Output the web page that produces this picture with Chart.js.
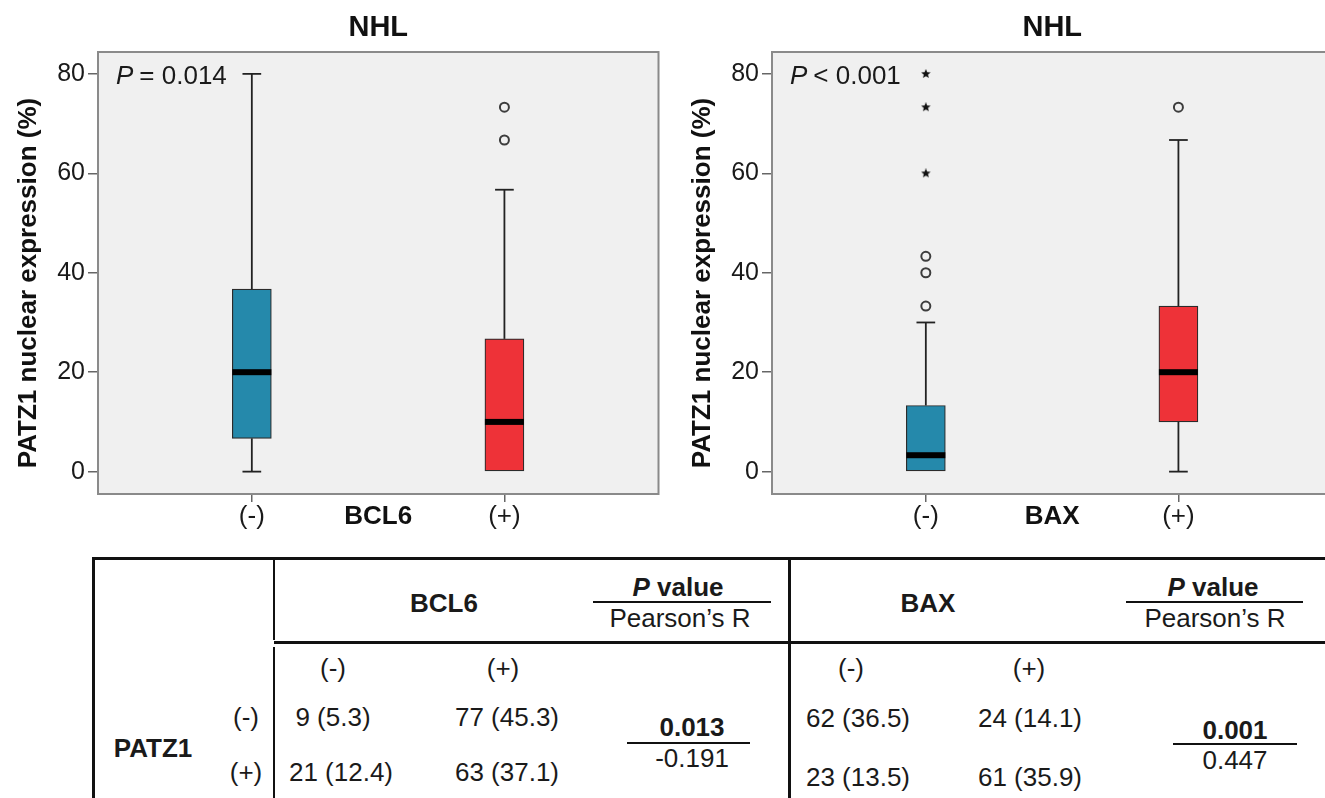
<!DOCTYPE html>
<html>
<head>
<meta charset="utf-8">
<script src="https://cdn.jsdelivr.net/npm/chart.js@4.4.1/dist/chart.umd.min.js"></script>
<style>
    html, body { margin: 0; padding: 0; background: #fff; }
    body { width: 1325px; height: 798px; overflow: hidden; position: relative;
           font-family: 'Liberation Sans', Arial, sans-serif; color: #1a1a1a; }
    .panel { position: absolute; top: 0; width: 665px; height: 545px; }
    .t { position: absolute; transform: translate(-50%, -50%); white-space: nowrap; font-size: 26px; line-height: 1; }
    .b { font-weight: bold; }
    .ln { position: absolute; background: #111; }
</style>
</head>
<body>
<div class="panel" style="left:0"><canvas id="chartBcl6"></canvas></div>
<div class="panel" style="left:674px"><canvas id="chartBax"></canvas></div>
<div id="table"></div>
<script>
// Groups on the x axis
const groups = ['(-)', '(+)'];
const yTicks = [0, 20, 40, 60, 80];
const boxColors = ['#2589ab', '#ee3238'];

// BCL6 panel (box stats per group)
const bcl6Min = [0, 0];
const bcl6Q1 = [6.7, 0];
const bcl6Median = [20, 10];
const bcl6Q3 = [36.7, 26.7];
const bcl6Max = [80, 56.7];
const bcl6Outliers = [[], [66.7, 73.3]];
const bcl6Extremes = [[], []];
const bcl6P = '= 0.014';

// BAX panel
const baxMin = [0, 0];
const baxQ1 = [0, 10];
const baxMedian = [3.3, 20];
const baxQ3 = [13.3, 33.3];
const baxMax = [30, 66.7];
const baxOutliers = [[33.3, 40, 43.3], [73.3]];
const baxExtremes = [[60, 73.3, 80], []];
const baxP = '< 0.001';

// Table values
const rowLabels = ['(-)', '(+)'];
const bcl6Counts = [[9, 77], [21, 63]];
const bcl6Pct = [[5.3, 45.3], [12.4, 37.1]];
const baxCounts = [[62, 24], [23, 61]];
const baxPct = [[36.5, 14.1], [13.5, 35.9]];
const pValues = ['0.013', '0.001'];
const pearsonR = ['-0.191', '0.447'];

const FONT = "'Liberation Sans', Arial, sans-serif";
const Y_TITLE = 'PATZ1 nuclear expression (%)';

// small filled star for extreme values
function makeStar(size) {
    const c = document.createElement('canvas');
    c.width = c.height = size;
    const g = c.getContext('2d');
    g.fillStyle = '#111';
    g.beginPath();
    for (let k = 0; k < 10; k++) {
        const r = k % 2 ? size * 0.22 : size * 0.5;
        const a = -Math.PI / 2 + k * Math.PI / 5;
        g.lineTo(size / 2 + r * Math.cos(a), size / 2 + r * Math.sin(a));
    }
    g.closePath();
    g.fill();
    return c;
}
const starImg = makeStar(10);

// whiskers, medians, frame, y title and P label
const boxPlotPlugin = {
    id: 'boxPlot',
    beforeDraw(chart) {
        const {ctx, chartArea: a} = chart;
        ctx.save();
        ctx.fillStyle = '#f0f0f0';
        ctx.fillRect(a.left, a.top, a.right - a.left, a.bottom - a.top);
        ctx.restore();
    },
    beforeDatasetsDraw(chart, args, opts) {
        const {ctx, scales: {x, y}} = chart;
        const s = opts.stats;
        const capHalf = 0.037;
        ctx.save();
        ctx.strokeStyle = '#222';
        ctx.lineWidth = 1.8;
        const seg = (x1, y1, x2, y2) => { ctx.beginPath(); ctx.moveTo(x1, y1); ctx.lineTo(x2, y2); ctx.stroke(); };
        s.q1.forEach((q1, i) => {
            const c = i + 1;
            const px = x.getPixelForValue(c);
            const cl = x.getPixelForValue(c - capHalf), cr = x.getPixelForValue(c + capHalf);
            if (s.max[i] > s.q3[i]) {
                seg(px, y.getPixelForValue(s.q3[i]), px, y.getPixelForValue(s.max[i]));
                seg(cl, y.getPixelForValue(s.max[i]), cr, y.getPixelForValue(s.max[i]));
            }
            if (s.min[i] < q1) {
                seg(px, y.getPixelForValue(q1), px, y.getPixelForValue(s.min[i]));
                seg(cl, y.getPixelForValue(s.min[i]), cr, y.getPixelForValue(s.min[i]));
            }
        });
        ctx.restore();
    },
    afterDatasetsDraw(chart, args, opts) {
        const {ctx, chartArea: a, scales: {y}} = chart;
        const s = opts.stats;
        const bars = chart.getDatasetMeta(0).data;
        ctx.save();
        ctx.fillStyle = '#000';
        s.median.forEach((m, i) => {
            const bar = bars[i];
            const py = y.getPixelForValue(m);
            ctx.fillRect(bar.x - bar.width / 2, py - 3, bar.width, 6);
        });
        // frame
        ctx.strokeStyle = '#8a8a8a';
        ctx.lineWidth = 2;
        ctx.strokeRect(a.left, a.top, a.right - a.left, a.bottom - a.top);
        // P annotation
        const ty = y.getPixelForValue(80) + 3;
        let tx = a.left + 18;
        ctx.fillStyle = '#1a1a1a';
        ctx.textBaseline = 'middle';
        ctx.font = 'italic 26px ' + FONT;
        ctx.fillText('P', tx, ty);
        tx += ctx.measureText('P').width + 6;
        ctx.font = '26px ' + FONT;
        ctx.fillText(opts.pText, tx, ty);
        // y axis title
        ctx.translate(29, (a.top + a.bottom) / 2 + 10);
        ctx.rotate(-Math.PI / 2);
        ctx.textAlign = 'center';
        ctx.fillStyle = '#111';
        ctx.font = 'bold 26px ' + FONT;
        ctx.fillText(Y_TITLE, 0, 0);
        ctx.restore();
    }
};

function makeBoxChart(canvasId, stats, xTitle, pText) {
    const boxData = groups.map((g, i) => ({x: i + 1, y: [stats.q1[i], stats.q3[i]]}));
    const outData = [], extData = [];
    groups.forEach((g, i) => {
        stats.outliers[i].forEach(v => outData.push({x: i + 1, y: v}));
        stats.extremes[i].forEach(v => extData.push({x: i + 1, y: v}));
    });

    return new Chart(document.getElementById(canvasId), {
        type: 'bar',
        data: {
            datasets: [{
                data: boxData,
                backgroundColor: boxColors,
                borderColor: '#2b2b2b',
                borderWidth: 1.2,
                borderSkipped: false,
                barThickness: 39
            }, {
                type: 'scatter',
                data: outData,
                pointStyle: 'circle',
                pointRadius: 4.5,
                borderColor: '#3d3d3d',
                borderWidth: 2,
                backgroundColor: 'rgba(0,0,0,0)'
            }, {
                type: 'scatter',
                data: extData,
                pointStyle: starImg,
                pointRadius: 5
            }]
        },
        options: {
            responsive: true,
            maintainAspectRatio: false,
            animation: false,
            events: [],
            layout: {padding: {left: 0, right: 5, top: 0, bottom: 0}},
            plugins: {
                legend: {display: false},
                tooltip: {enabled: false},
                title: {
                    display: true,
                    fullSize: false,
                    text: 'NHL',
                    color: '#111',
                    font: {family: FONT, size: 29, weight: 'bold', lineHeight: 1.2},
                    padding: {top: 10.6, bottom: 6.6}
                },
                boxPlot: {stats: stats, pText: pText}
            },
            scales: {
                x: {
                    type: 'linear',
                    min: 0.391,
                    max: 2.61,
                    offset: false,
                    afterBuildTicks: scale => { scale.ticks = groups.map((g, i) => ({value: i + 1})); },
                    afterFit: scale => { scale.height = 51; },
                    ticks: {
                        callback: v => groups[v - 1],
                        color: '#1a1a1a',
                        padding: 1.5,
                        maxRotation: 0,
                        font: {family: FONT, size: 26, lineHeight: 1}
                    },
                    grid: {display: true, drawOnChartArea: false, drawTicks: true, tickLength: 8, color: '#666', lineWidth: 1.5, offset: false},
                    border: {display: false},
                    title: {
                        display: true,
                        text: xTitle,
                        color: '#111',
                        font: {family: FONT, size: 26, weight: 'bold', lineHeight: 1},
                        padding: {top: 0, bottom: 15.5}
                    }
                },
                y: {
                    min: -4.5,
                    max: 84.4,
                    afterBuildTicks: scale => { scale.ticks = yTicks.map(v => ({value: v})); },
                    afterFit: scale => { scale.width = 98; },
                    ticks: {
                        color: '#1a1a1a',
                        padding: 3,
                        font: {family: FONT, size: 25, lineHeight: 1}
                    },
                    grid: {display: true, drawOnChartArea: false, drawTicks: true, tickLength: 10, color: '#666', lineWidth: 1.5},
                    border: {display: false},
                    title: {display: false}
                }
            }
        },
        plugins: [boxPlotPlugin]
    });
}

makeBoxChart('chartBcl6', {
    min: bcl6Min, q1: bcl6Q1, median: bcl6Median, q3: bcl6Q3, max: bcl6Max,
    outliers: bcl6Outliers, extremes: bcl6Extremes
}, 'BCL6', bcl6P);

makeBoxChart('chartBax', {
    min: baxMin, q1: baxQ1, median: baxMedian, q3: baxQ3, max: baxMax,
    outliers: baxOutliers, extremes: baxExtremes
}, 'BAX', baxP);

// ---- Contingency table below the charts ----
const table = document.getElementById('table');

function text(html, cx, cy, cls) {
    const d = document.createElement('div');
    d.className = 't' + (cls ? ' ' + cls : '');
    d.innerHTML = html;
    d.style.left = cx + 'px';
    d.style.top = cy + 'px';
    table.appendChild(d);
}
function rule(x, y, w, h) {
    const d = document.createElement('div');
    d.className = 'ln';
    Object.assign(d.style, {left: x + 'px', top: y + 'px', width: w + 'px', height: h + 'px'});
    table.appendChild(d);
}

// borders
rule(92, 557, 1233, 2.5);
rule(92, 557, 2.5, 241);
rule(272.5, 557, 2.5, 83);
rule(272.5, 647, 2.5, 151);
rule(274, 641, 1051, 2.5);
rule(788, 557, 2.5, 241);

// headers
text('BCL6', 444, 603, 'b');
text('BAX', 928, 603, 'b');
[[678, 593, 771], [1213, 1126, 1303]].forEach(([cx, x1, x2]) => {
    text('<i>P</i> value', cx, 587, 'b');
    rule(x1, 601, x2 - x1, 2);
    text('Pearson\u2019s R', cx + 2, 618);
});

text('PATZ1', 153, 748, 'b');
const rowY = [717, 772];
rowLabels.forEach((r, i) => text(r, 246, rowY[i]));

// BCL6 block
const bcl6ColX = [[333, 507], [341, 507]];
text(groups[0], 333, 668);
text(groups[1], 503, 668);
bcl6Counts.forEach((row, i) => row.forEach((n, j) => {
    text(n + ' (' + bcl6Pct[i][j].toFixed(1) + ')', bcl6ColX[i][j], rowY[i]);
}));

// BAX block
const baxColX = [858, 1030];
const baxRowY = [718, 777];
text(groups[0], 851, 668);
text(groups[1], 1029, 668);
baxCounts.forEach((row, i) => row.forEach((n, j) => {
    text(n + ' (' + baxPct[i][j].toFixed(1) + ')', baxColX[j], baxRowY[i]);
}));

// P value / Pearson's R
[[692, 627, 750, 727, 742, 758], [1235, 1173, 1297, 730, 743, 760]].forEach(([cx, x1, x2, yp, yl, yr], k) => {
    text(pValues[k], cx, yp, 'b');
    rule(x1, yl, x2 - x1, 2);
    text(pearsonR[k], cx, yr);
});
</script>
</body>
</html>
